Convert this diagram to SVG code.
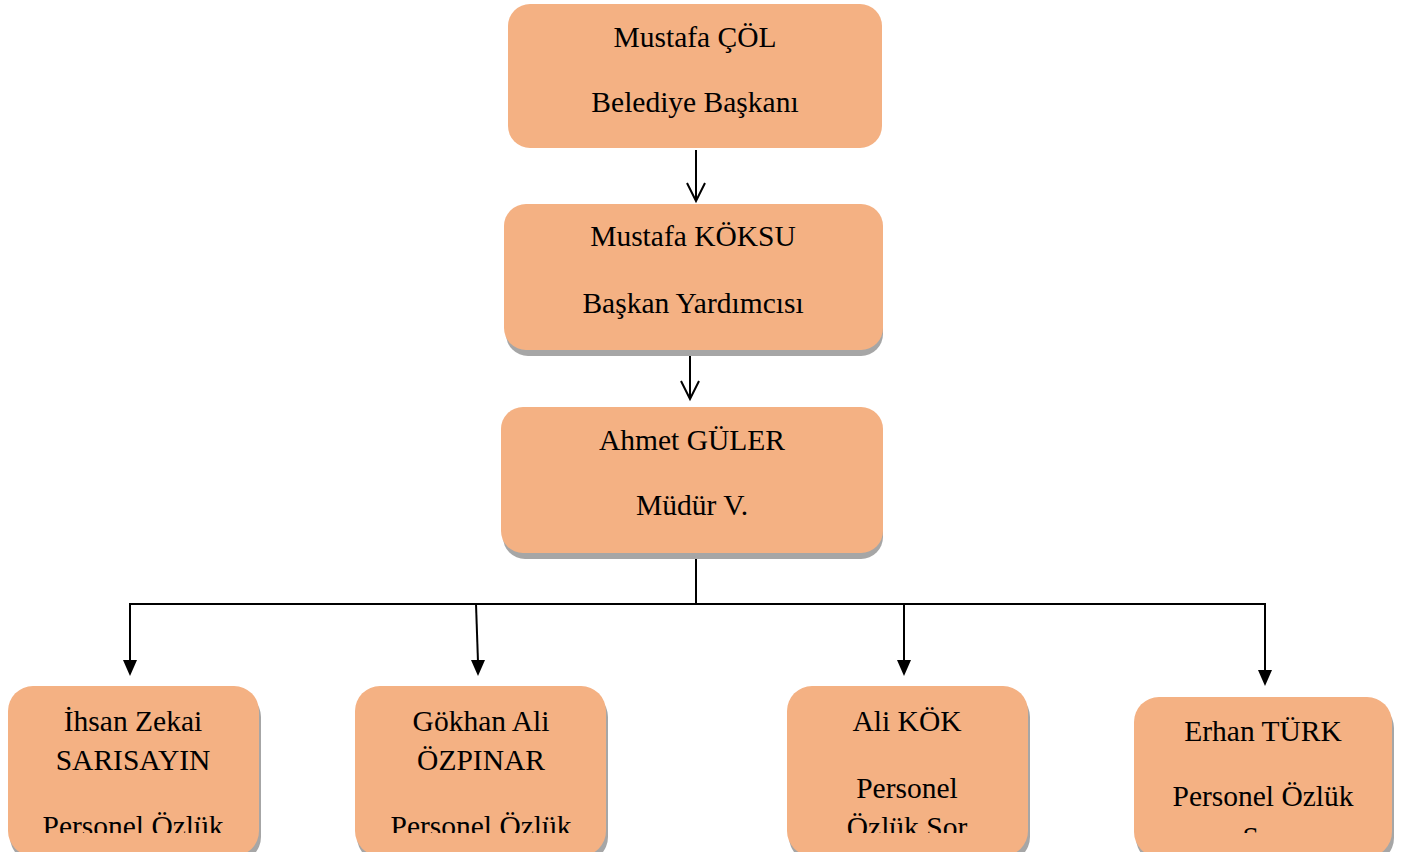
<svg xmlns="http://www.w3.org/2000/svg" width="1405" height="852" viewBox="0 0 1405 852">
<defs>
<style>
.box{fill:#F4B183;}
.sh{fill:#A6A6A6;}
.t{font-family:"Liberation Serif","Times New Roman",serif;font-size:29.5px;fill:#000;text-anchor:middle;}
.ln{stroke:#000;stroke-width:2;fill:none;}
.ah{fill:#000;}
</style>
<clipPath id="clipB"><rect x="0" y="0" width="1405" height="833"/></clipPath>
</defs>
<rect x="0" y="0" width="1405" height="852" fill="#fff"/>
<g id="connectors">
<line class="ln" x1="696" y1="150" x2="696" y2="201"/>
<polyline class="ln" points="687,183 696,201 705,183"/>
<line class="ln" x1="690" y1="350" x2="690" y2="399"/>
<polyline class="ln" points="681,381 690,399 699,381"/>
<line class="ln" x1="696" y1="553" x2="696" y2="604"/>
<line class="ln" x1="129" y1="604" x2="1266" y2="604"/>
<line class="ln" x1="130" y1="604" x2="130" y2="662"/>
<polygon class="ah" points="123,660 137,660 130,676"/>
<line class="ln" x1="476" y1="604" x2="478" y2="662"/>
<polygon class="ah" points="471,660 485,660 478,676"/>
<line class="ln" x1="904" y1="604" x2="904" y2="662"/>
<polygon class="ah" points="897,660 911,660 904,676"/>
<line class="ln" x1="1265" y1="604" x2="1265" y2="672"/>
<polygon class="ah" points="1258,670 1272,670 1265,686"/>
</g>
<g id="n1">
<rect class="box" x="508" y="4" width="374" height="144" rx="22"/>
<text class="t" x="695" y="47">Mustafa ÇÖL</text>
<text class="t" x="695" y="112">Belediye Başkanı</text>
</g>
<g id="n2">
<rect class="sh" x="506" y="210" width="377" height="146" rx="22"/>
<rect class="box" x="504" y="204" width="379" height="146" rx="22"/>
<text class="t" x="693" y="246">Mustafa KÖKSU</text>
<text class="t" x="693" y="313">Başkan Yardımcısı</text>
</g>
<g id="n3">
<rect class="sh" x="503" y="413" width="380" height="146" rx="22"/>
<rect class="box" x="501" y="407" width="382" height="146" rx="22"/>
<text class="t" x="692" y="450">Ahmet GÜLER</text>
<text class="t" x="692" y="515">Müdür V.</text>
</g>
<g id="n4">
<rect class="sh" x="10" y="692" width="251" height="170" rx="25"/>
<rect class="box" x="8" y="686" width="251" height="170" rx="25"/>
<g clip-path="url(#clipB)">
<text class="t" x="133" y="731">İhsan Zekai</text>
<text class="t" x="133" y="770">SARISAYIN</text>
<text class="t" x="133" y="836">Personel Özlük</text>
</g>
</g>
<g id="n5">
<rect class="sh" x="357" y="692" width="251" height="170" rx="25"/>
<rect class="box" x="355" y="686" width="251" height="170" rx="25"/>
<g clip-path="url(#clipB)">
<text class="t" x="481" y="731">Gökhan Ali</text>
<text class="t" x="481" y="770">ÖZPINAR</text>
<text class="t" x="481" y="836">Personel Özlük</text>
</g>
</g>
<g id="n6">
<rect class="sh" x="789" y="692" width="241" height="170" rx="25"/>
<rect class="box" x="787" y="686" width="241" height="170" rx="25"/>
<g clip-path="url(#clipB)">
<text class="t" x="907" y="731">Ali KÖK</text>
<text class="t" x="907" y="798">Personel</text>
<text class="t" x="907" y="837">Özlük Sor</text>
</g>
</g>
<g id="n7">
<rect class="sh" x="1136" y="703" width="258" height="160" rx="25"/>
<rect class="box" x="1134" y="697" width="258" height="160" rx="25"/>
<g clip-path="url(#clipB)">
<text class="t" x="1263" y="741">Erhan TÜRK</text>
<text class="t" x="1263" y="806">Personel Özlük</text>
<text class="t" x="1263" y="847">Sor</text>
</g>
</g>
</svg>
